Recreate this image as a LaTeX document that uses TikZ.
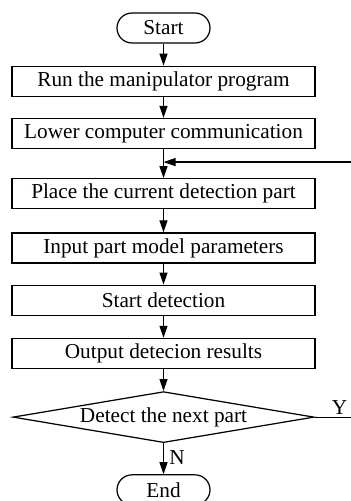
\documentclass[tikz,border=0pt]{standalone}
\usepackage{fontspec}
\setmainfont{Liberation Serif}
\usetikzlibrary{positioning,shapes.geometric,arrows.meta}

\newcommand{\flowBlockWidth}{6.06cm}
\newcommand{\flowBlockHeight}{0.6cm}
\tikzset{
  fc base/.style={font=\fontsize{12.1}{14}\selectfont, inner sep=1pt},
  fc arrow/.style={line width=0.7pt,-{Triangle[length=2.4mm,width=1.6mm]}},
  fc startstop/.style={draw, line width=0.7pt, rectangle, rounded corners=0.3cm,
    minimum width=1.86cm, minimum height=0.6cm,
    align=center, fill=white},
  fc process/.style={draw, line width=0.7pt, rectangle,
    minimum width=\flowBlockWidth, minimum height=\flowBlockHeight,
    align=center, fill=white},
  fc decision/.style={draw, line width=0.7pt, diamond, aspect=6.5,
    inner sep=0pt, minimum width=6.02cm, minimum height=1.02cm,
    align=center, fill=white},
}

\begin{document}
\begin{tikzpicture}[
    fc base,
    node distance=0.42cm,
    startstop/.style={fc startstop},
    process/.style={fc process},
    decision/.style={fc decision},
    arrow/.style={fc arrow}
]
\useasboundingbox (0,0) rectangle (7.02,-10.02);
\node (start)  [startstop] at (3.27,-0.56) {Start};
\node (run)    [process, below=0.44cm of start] {Run the manipulator program};
\node (comm)   [process, below=of run] {Lower computer communication};
\node (place)  [process, below=0.58cm of comm] {Place the current detection part};
\node (input)  [process, below=0.46cm of place] {Input part model parameters};
\node (detect) [process, below=of input] {Start detection};
\node (output) [process, below=0.44cm of detect] {Output detecion results};
\node (next)   [decision, below=0.44cm of output] {Detect the next part};
\node (stop)   [startstop, below=0.62cm of next] {End};
\coordinate [below=0.26cm of comm] (join);

\draw [arrow] (start)  -- (run);
\draw [arrow] (run)    -- (comm);
\draw [arrow] (comm)   -- (place);
\draw [arrow] (place)  -- (input);
\draw [arrow] (input)  -- (detect);
\draw [arrow] (detect) -- (output);
\draw [arrow] (output) -- (next);
\draw [arrow] (next)   -- node[right=2pt, pos=0.45] {N} (stop);
\draw [arrow] (next.east) -- node[above] {Y} ++(1.0,0) |- (join);
\end{tikzpicture}
\end{document}
